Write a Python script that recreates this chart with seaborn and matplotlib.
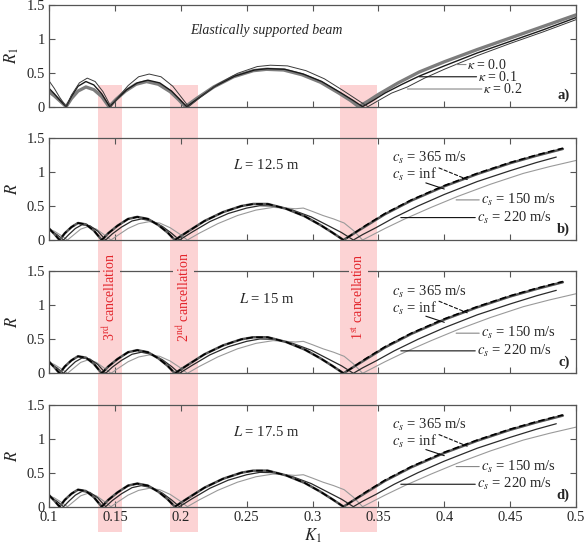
import matplotlib
matplotlib.use("Agg")
import matplotlib.pyplot as plt
import matplotlib.transforms as mtransforms
from matplotlib.patches import Rectangle
import seaborn as sns

# === DATA ===
# panel a: elastically supported beam, R1 vs K1 for three kappa values
K_KAPPA0 = [0.100, 0.104, 0.108, 0.113, 0.117, 0.122, 0.128, 0.134, 0.140, 0.1455,
            0.151, 0.158, 0.166, 0.174, 0.183, 0.192, 0.198, 0.2035, 0.212, 0.225,
            0.240, 0.255, 0.265, 0.278, 0.292, 0.306, 0.320, 0.329, 0.335, 0.342,
            0.350, 0.365, 0.381, 0.400, 0.425, 0.450, 0.475, 0.500]
R_KAPPA0 = [0.22, 0.16, 0.09, 0.00, 0.12, 0.23, 0.29, 0.25, 0.15, 0.00,
            0.11, 0.23, 0.33, 0.37, 0.33, 0.22, 0.11, 0.00, 0.12, 0.29,
            0.44, 0.53, 0.55, 0.54, 0.47, 0.36, 0.20, 0.09, 0.00, 0.08,
            0.18, 0.35, 0.51, 0.66, 0.84, 1.01, 1.18, 1.35]

K_KAPPA1 = [0.100, 0.104, 0.108, 0.113, 0.117, 0.122, 0.128, 0.134, 0.140, 0.146,
            0.152, 0.159, 0.167, 0.175, 0.184, 0.193, 0.199, 0.2045, 0.213, 0.226,
            0.241, 0.256, 0.266, 0.279, 0.293, 0.307, 0.321, 0.331, 0.338, 0.345,
            0.355, 0.368, 0.381, 0.400, 0.425, 0.450, 0.475, 0.500]
R_KAPPA1 = [0.27, 0.19, 0.10, 0.00, 0.15, 0.30, 0.37, 0.32, 0.19, 0.00,
            0.12, 0.25, 0.35, 0.39, 0.35, 0.23, 0.11, 0.00, 0.12, 0.30,
            0.45, 0.54, 0.56, 0.55, 0.48, 0.37, 0.21, 0.09, 0.00, 0.08,
            0.20, 0.33, 0.45, 0.60, 0.79, 0.96, 1.13, 1.31]

K_KAPPA2 = [0.100, 0.104, 0.108, 0.113, 0.117, 0.123, 0.129, 0.135, 0.141, 0.147,
            0.153, 0.160, 0.168, 0.176, 0.185, 0.194, 0.200, 0.206, 0.215, 0.228,
            0.243, 0.258, 0.268, 0.281, 0.295, 0.309, 0.323, 0.334, 0.342, 0.350,
            0.360, 0.372, 0.385, 0.400, 0.425, 0.450, 0.475, 0.500]
R_KAPPA2 = [0.38, 0.27, 0.14, 0.00, 0.17, 0.35, 0.42, 0.37, 0.22, 0.00,
            0.15, 0.31, 0.44, 0.48, 0.44, 0.30, 0.15, 0.00, 0.14, 0.33,
            0.49, 0.59, 0.61, 0.60, 0.53, 0.41, 0.24, 0.10, 0.00, 0.09,
            0.20, 0.29, 0.42, 0.55, 0.75, 0.93, 1.10, 1.28]

# panels b-d: R vs K1 for four shear wave speeds (shapes nearly equal in all panels)
K_INF = [0.100, 0.104, 0.108, 0.112, 0.117, 0.122, 0.128, 0.134, 0.140, 0.145,
         0.152, 0.160, 0.167, 0.175, 0.183, 0.190, 0.1955, 0.205, 0.218, 0.232,
         0.246, 0.255, 0.266, 0.280, 0.294, 0.306, 0.315, 0.3235, 0.330, 0.340,
         0.355, 0.375, 0.400, 0.425, 0.450, 0.470, 0.490]
R_INF = [0.17, 0.09, 0.00, 0.10, 0.19, 0.25, 0.23, 0.14, 0.00, 0.10,
         0.21, 0.31, 0.34, 0.31, 0.22, 0.11, 0.00, 0.12, 0.28, 0.41,
         0.50, 0.53, 0.53, 0.46, 0.35, 0.22, 0.11, 0.00, 0.08, 0.20,
         0.38, 0.58, 0.79, 0.97, 1.13, 1.24, 1.34]
R_365 = [0.17, 0.09, 0.00, 0.10, 0.19, 0.25, 0.23, 0.14, 0.00, 0.10,
         0.21, 0.31, 0.34, 0.31, 0.22, 0.11, 0.00, 0.12, 0.28, 0.41,
         0.50, 0.53, 0.53, 0.46, 0.35, 0.22, 0.11, 0.00, 0.08, 0.21,
         0.39, 0.59, 0.80, 0.98, 1.14, 1.25, 1.35]

K_220 = [0.100, 0.106, 0.111, 0.115, 0.120, 0.125, 0.131, 0.137, 0.143, 0.148,
         0.155, 0.163, 0.170, 0.178, 0.186, 0.193, 0.199, 0.208, 0.222, 0.236,
         0.250, 0.260, 0.271, 0.285, 0.299, 0.312, 0.322, 0.331, 0.338, 0.348,
         0.362, 0.380, 0.400, 0.425, 0.450, 0.470, 0.485]
R_220 = [0.15, 0.08, 0.00, 0.08, 0.17, 0.225, 0.21, 0.13, 0.00, 0.09,
         0.19, 0.28, 0.31, 0.28, 0.20, 0.10, 0.00, 0.11, 0.27, 0.39,
         0.47, 0.505, 0.50, 0.44, 0.34, 0.21, 0.11, 0.00, 0.08, 0.18,
         0.33, 0.50, 0.67, 0.86, 1.02, 1.14, 1.22]

K_150 = [0.100, 0.104, 0.109, 0.114, 0.119, 0.124, 0.130, 0.136, 0.141, 0.147,
         0.153, 0.160, 0.168, 0.176, 0.184, 0.192, 0.199, 0.205, 0.214, 0.228,
         0.243, 0.257, 0.270, 0.280, 0.287, 0.293, 0.300, 0.308, 0.316, 0.324,
         0.331, 0.338, 0.345, 0.355, 0.370, 0.390, 0.410, 0.435, 0.460, 0.480,
         0.500]
R_150 = [0.16, 0.13, 0.07, 0.00, 0.08, 0.16, 0.20, 0.16, 0.09, 0.00,
         0.08, 0.17, 0.24, 0.27, 0.25, 0.18, 0.09, 0.00, 0.10, 0.24,
         0.36, 0.44, 0.48, 0.47, 0.46, 0.47, 0.42, 0.36, 0.31, 0.25,
         0.14, 0.00, 0.07, 0.17, 0.31, 0.48, 0.64, 0.82, 0.98, 1.08,
         1.17]

KAPPA_LABELS = [r"$\kappa$ = 0.0", r"$\kappa$ = 0.1", r"$\kappa$ = 0.2"]
CS_LABELS = [r"$c_s$ = 365 m/s", r"$c_s$ = inf", r"$c_s$ = 150 m/s", r"$c_s$ = 220 m/s"]
LENGTH_LABELS = [r"$L$ = 12.5 m", r"$L$ = 15 m", r"$L$ = 17.5 m"]
PANEL_TAGS = ["a)", "b)", "c)", "d)"]

BAND_LEFT = [0.1372, 0.1917, 0.3205]
BAND_RIGHT = [0.1553, 0.2129, 0.3490]
BAND_LABELS = [r"3$^{\rm rd}$ cancellation", r"2$^{\rm nd}$ cancellation",
               r"1$^{\rm st}$ cancellation"]

X_TICKS = [0.1, 0.15, 0.2, 0.25, 0.3, 0.35, 0.4, 0.45, 0.5]
X_TICK_LABELS = ["0.1", "0.15", "0.2", "0.25", "0.3", "0.35", "0.4", "0.45", "0.5"]
Y_TICKS = [0, 0.5, 1, 1.5]
Y_TICK_LABELS = ["0", "0.5", "1", "1.5"]

# === STYLE ===
sns.set_theme(style="ticks")
plt.rcParams["font.family"] = ["Liberation Serif", "DejaVu Serif"]
plt.rcParams["mathtext.fontset"] = "stix"
plt.rcParams["font.size"] = 10

SPINE = "#555555"
PINK = "#fcd3d4"
RED = "#e3242b"

fig = plt.figure(figsize=(5.85, 5.46), dpi=100)
bottoms = [0.8046, 0.5604, 0.3163, 0.0720]
axes = [fig.add_axes([0.0838, b, 0.9009, 0.1868]) for b in bottoms]


def style_axis(ax, show_x):
    ax.set_facecolor("none")
    ax.set_xlim(0.1, 0.5)
    ax.set_ylim(0, 1.5)
    ax.set_xticks(X_TICKS)
    ax.set_xticklabels(X_TICK_LABELS if show_x else [])
    ax.set_yticks(Y_TICKS)
    ax.set_yticklabels(Y_TICK_LABELS)
    ax.tick_params(direction="in", top=True, right=True, length=4, width=0.8,
                   color=SPINE, labelsize=10.5, pad=3)
    for s in ax.spines.values():
        s.set_color(SPINE)
        s.set_linewidth(0.9)
    ax.set_xlabel("")


def leader(ax, start, end, color, lw=0.8, ls="-"):
    ax.annotate("", xy=end, xytext=start,
                arrowprops=dict(arrowstyle="-", color=color, lw=lw, linestyle=ls,
                                shrinkA=0, shrinkB=0))


# === PANEL a ===
ax = axes[0]
sns.lineplot(x=K_KAPPA0, y=R_KAPPA0, ax=ax, color="#7d7d7d", linewidth=2.4,
             estimator=None, sort=False)
sns.lineplot(x=K_KAPPA1, y=R_KAPPA1, ax=ax, color="#1a1a1a", linewidth=1.0,
             estimator=None, sort=False)
sns.lineplot(x=K_KAPPA2, y=R_KAPPA2, ax=ax, color="#3a3a3a", linewidth=0.7,
             estimator=None, sort=False)
style_axis(ax, False)
ax.set_ylabel(r"$R_1$", fontsize=12, labelpad=4)
ax.text(0.265, 1.12, "Elastically supported beam", style="italic", ha="center",
        va="center", fontsize=10)
ax.text(0.4175, 0.62, KAPPA_LABELS[0], ha="left", va="center", fontsize=10)
ax.text(0.4255, 0.44, KAPPA_LABELS[1], ha="left", va="center", fontsize=10)
ax.text(0.4295, 0.26, KAPPA_LABELS[2], ha="left", va="center", fontsize=10)
leader(ax, (0.4165, 0.62), (0.409, 0.62), "#888888")
leader(ax, (0.4245, 0.44), (0.381, 0.44), "#111111")
leader(ax, (0.4285, 0.26), (0.372, 0.26), "#888888")

# === PANELS b-d ===
for i, ax in enumerate(axes[1:]):
    sns.lineplot(x=K_150, y=R_150, ax=ax, color="#9a9a9a", linewidth=0.8,
                 estimator=None, sort=False)
    sns.lineplot(x=K_220, y=R_220, ax=ax, color="#2b2b2b", linewidth=0.9,
                 estimator=None, sort=False)
    sns.lineplot(x=K_INF, y=R_INF, ax=ax, color="#555555", linewidth=1.8,
                 estimator=None, sort=False)
    sns.lineplot(x=K_INF, y=R_365, ax=ax, color="#000000", linewidth=1.2,
                 linestyle=(0, (4, 2)), estimator=None, sort=False)
    style_axis(ax, i == 2)
    ax.set_ylabel(r"$R$", fontsize=12, labelpad=4)
    ax.text(0.265, 1.1, LENGTH_LABELS[i], ha="center", va="center", fontsize=10.5)
    ax.text(0.3604, 1.20, CS_LABELS[0], ha="left", va="center", fontsize=10.5)
    ax.text(0.3604, 0.96, CS_LABELS[1], ha="left", va="center", fontsize=10.5)
    ax.text(0.4278, 0.59, CS_LABELS[2], ha="left", va="center", fontsize=10.5)
    ax.text(0.4248, 0.33, CS_LABELS[3], ha="left", va="center", fontsize=10.5)
    leader(ax, (0.396, 1.06), (0.4174, 0.89), "#111111", ls=(0, (3, 2)))
    leader(ax, (0.386, 0.84), (0.400, 0.75), "#111111")
    leader(ax, (0.4265, 0.59), (0.409, 0.59), "#888888")
    leader(ax, (0.4235, 0.33), (0.367, 0.33), "#111111")

axes[3].set_xlabel(r"$K_1$", fontsize=12, labelpad=2)

for ax, tag in zip(axes, PANEL_TAGS):
    ax.text(0.988, 0.11, tag, transform=ax.transAxes, ha="right", va="center",
            fontsize=10.5, fontweight="bold")

# === CANCELLATION BANDS ===
trans = mtransforms.blended_transform_factory(axes[3].transData, fig.transFigure)
for x0, x1, lab in zip(BAND_LEFT, BAND_RIGHT, BAND_LABELS):
    fig.add_artist(Rectangle((x0, 0.0256), x1 - x0, 0.8443 - 0.0256, transform=trans,
                             facecolor=PINK, edgecolor="none", zorder=-1))
    fig.text((x0 + x1) / 2, 0.456, lab, transform=trans, rotation=90, ha="center",
             va="center", color=RED, fontsize=10,
             bbox=dict(facecolor=PINK, edgecolor="none", pad=1.5))

fig.savefig("out.png", dpi=100)
